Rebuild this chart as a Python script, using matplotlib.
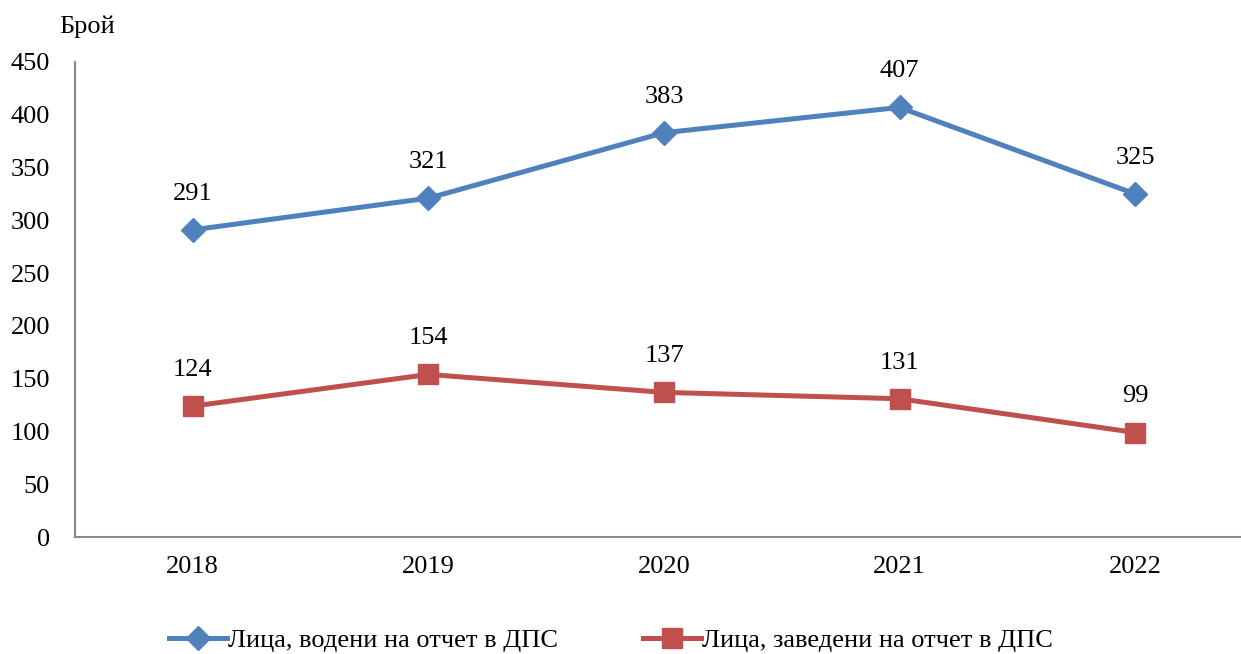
import matplotlib.pyplot as plt

years = ['2018', '2019', '2020', '2021', '2022']
vodeni = [291, 321, 383, 407, 325]
zavedeni = [124, 154, 137, 131, 99]
label_vodeni = 'Лица, водени на отчет в ДПС'
label_zavedeni = 'Лица, заведени на отчет в ДПС'

plt.rcParams['font.family'] = ['Liberation Serif', 'DejaVu Serif']
fs = 19

fig = plt.figure(figsize=(12.41, 6.54), dpi=100)
ax = fig.add_axes([75 / 1241, 1 - 537 / 654, (1253 - 75) / 1241, (537 - 62) / 654])

x = range(len(years))
ax.plot(x, vodeni, color='#4F81BD', lw=3.6, marker='D', ms=12.5, label=label_vodeni)
ax.plot(x, zavedeni, color='#C0504D', lw=3.6, marker='s', ms=14, label=label_zavedeni)

# data labels above the points
for i in x:
    ax.annotate(str(vodeni[i]), (i, vodeni[i]), xytext=(0, 26), textcoords='offset points',
                ha='center', va='center', fontsize=fs)
    ax.annotate(str(zavedeni[i]), (i, zavedeni[i]), xytext=(0, 26), textcoords='offset points',
                ha='center', va='center', fontsize=fs)

ax.set_xlim(-0.5, 4.5)
ax.set_ylim(0, 450)
ax.set_yticks(range(0, 451, 50))
ax.set_xticks(list(x))
ax.set_xticklabels(years)
ax.tick_params(length=0, labelsize=fs)
ax.tick_params(axis='x', pad=14)
ax.tick_params(axis='y', pad=18)
for s in ['top', 'right']:
    ax.spines[s].set_visible(False)
for s in ['left', 'bottom']:
    ax.spines[s].set_color('#888888')
    ax.spines[s].set_linewidth(1.5)

fig.text(59 / 1241, 1 - 27 / 654, 'Брой', fontsize=fs, va='center', ha='left')

fig.legend(loc='center', bbox_to_anchor=(611 / 1241, 1 - 640 / 654), ncol=2, frameon=False,
           fontsize=fs, handlelength=2.2, handletextpad=0.05, columnspacing=3.2)

fig.savefig('out.png', dpi=100)
